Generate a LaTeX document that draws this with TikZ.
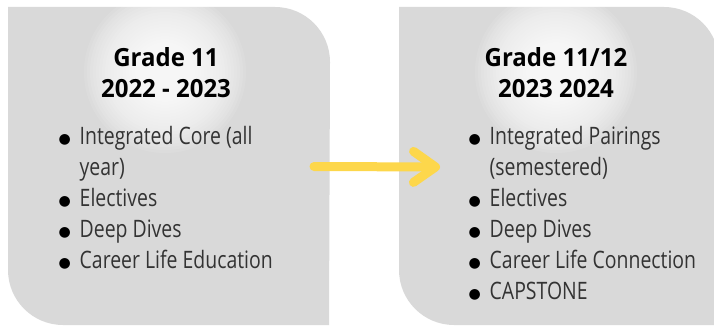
\documentclass[tikz,border=0pt]{standalone}
\usepackage{fontspec}
\setmainfont[FakeStretch=0.81]{Open Sans}
\newfontfamily\titlefont[FakeStretch=0.96]{Open Sans}
\newfontfamily\dotfont{DejaVu Sans}
\usetikzlibrary{arrows.meta,positioning}

\definecolor{boxgray}{RGB}{217,217,217}
\definecolor{arrowyellow}{RGB}{253,215,75}
\definecolor{itemgray}{RGB}{51,51,51}
\newcommand{\dotitem}{\makebox[21pt][l]{\raisebox{1pt}{\color{black}\dotfont\fontsize{14}{14}\selectfont ●}}}

\begin{document}
\begin{tikzpicture}[x=1pt,y=1pt,
		title/.style={align=center,inner sep=0pt,font=\titlefont\bfseries\fontsize{25}{31}\selectfont},
		itemlist/.style={anchor=north west,inner sep=0pt,text=itemgray,font=\fontsize{24}{31}\selectfont},
		glowring/.style={white,opacity=0.1}]
	
	\useasboundingbox (0,0) rectangle (714,327);
	\clip (0,0) rectangle (714,327);
	
	% the two year boxes
	\fill[boxgray] (8,320) -- (275,320) arc[start angle=90,end angle=0,radius=55] -- (329,2) -- (63,2) arc[start angle=270,end angle=180,radius=55] -- cycle;
	\fill[boxgray] (399,320) -- (664,320) arc[start angle=90,end angle=0,radius=55] -- (719,2) -- (454,2) arc[start angle=270,end angle=180,radius=55] -- cycle;
	% soft light behind the titles
	\foreach \r in {81,78,...,9} {
		\fill[glowring] (165,255) circle (\r);
		\fill[glowring] (556,255) circle (\r);
	}
	
	\node[title] (G11) at (166,254) {Grade 11\\2022 - 2023};
	\node[title] (G12) at (556,254) {Grade 11/12\\2023 2024};
	
	\node[itemlist] (L11) at (58.5,204.7) {\begin{tabular}{@{}l@{}l@{}}
			\dotitem & Integrated Core (all\\
			& year)\\
			\dotitem & Electives\\
			\dotitem & Deep Dives\\
			\dotitem & Career Life Education
		\end{tabular}};
	\node[itemlist] (L12) at (468.5,204.7) {\begin{tabular}{@{}l@{}l@{}}
			\dotitem & Integrated Pairings\\
			& (semestered)\\
			\dotitem & Electives\\
			\dotitem & Deep Dives\\
			\dotitem & Career Life Connection\\
			\dotitem & CAPSTONE
		\end{tabular}};
	
	% arrow between the years
	\coordinate (from) at (314,160.5);
	\coordinate (to) at (440,160);
	\draw[arrowyellow,line width=9pt,line cap=round,
		-{Straight Barb[length=22pt,width=31pt,line cap=round,line join=round]}] (from) -- (to);
\end{tikzpicture}
\end{document}
